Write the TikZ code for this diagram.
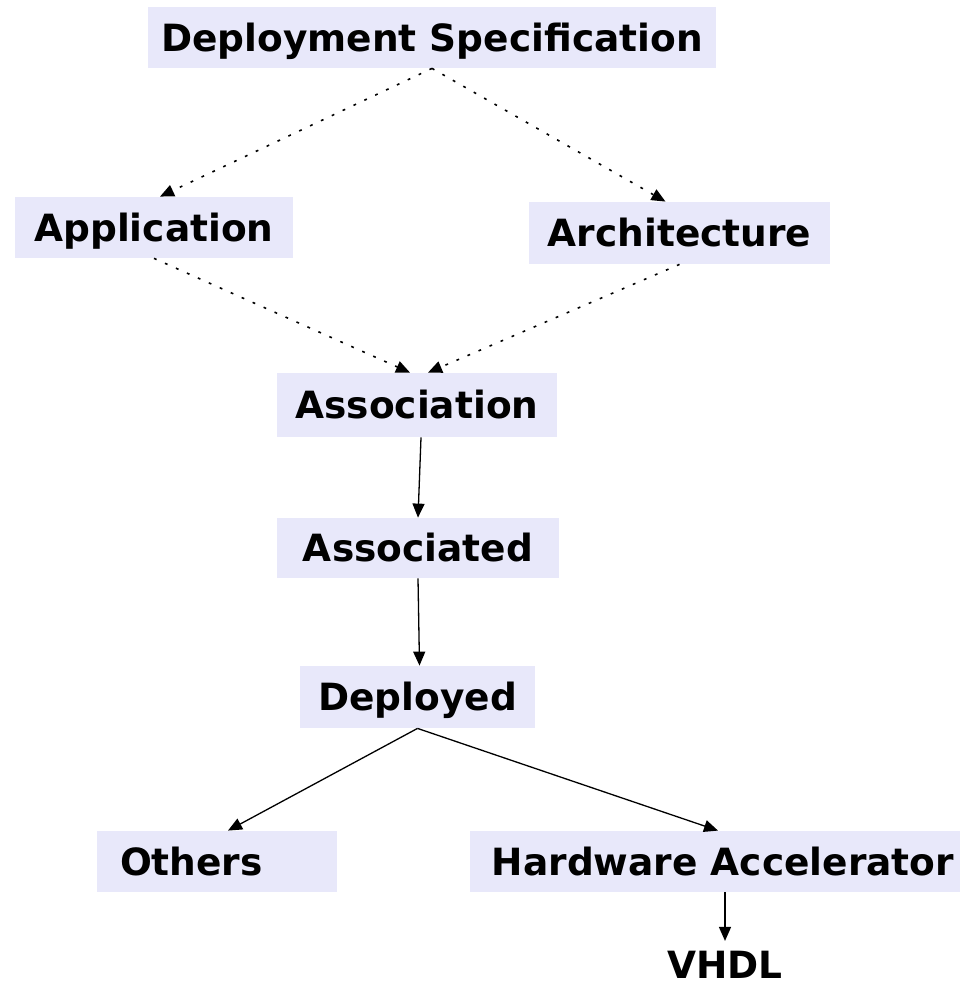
\documentclass[tikz,border=0pt]{standalone}
\usepackage{fontspec}
\setmainfont{DejaVu Sans}
\usetikzlibrary{arrows.meta,calc}
\definecolor{boxfill}{RGB}{232,232,250}
\tikzset{
  box/.style={fill=boxfill, inner sep=0pt, text height=13.67pt, text depth=0pt,
    font=\fontsize{18.75pt}{22pt}\selectfont\bfseries},
  plain/.style={inner sep=0pt, text height=13.67pt, text depth=0pt,
    font=\fontsize{18.75pt}{22pt}\selectfont\bfseries},
  tip/.style={-{Triangle[length=7pt,width=6pt]}},
  dotlink/.style={tip, line width=0.8pt, dash pattern=on 1.4pt off 4.6pt},
  solidlink/.style={tip, line width=0.65pt}
}
\begin{document}
\begin{tikzpicture}[x=0.5pt,y=-0.5pt]
\useasboundingbox (0,0) rectangle (959,989);

\node[box, minimum width=284pt, minimum height=30.5pt] (ds) at (432,37.5) {Deployment Specification};
\node[box, minimum width=139pt, minimum height=30.5pt] (app) at (154,227.5) {Application};
\node[box, minimum width=150.5pt, minimum height=31pt] (arch) at (679.5,233) {Architecture};
\node[box, minimum width=140pt, minimum height=32pt] (assoc) at (417,405) {Association};
\node[box, minimum width=141pt, minimum height=30pt] (assocd) at (418,548) {Associated};
\node[box, minimum width=117.5pt, minimum height=31pt] (dep) at (417.5,697) {Deployed};
\node[box, inner xsep=11.5pt, text width=97pt, align=left, minimum height=30.5pt] (others) at (217,861.5) {Others};
\node[box, minimum width=253pt, minimum height=30.5pt] (ha) at (723,861.5) {Hardware Accelerator};
\node[plain] (vhdl) at (725,965) {VHDL};

\draw[dotlink] (ds.south) -- ($(app.north)+(6,0)$);
\draw[dotlink] (ds.south) -- ($(arch.north)+(-14,0)$);
\draw[dotlink] (app.south) -- ($(assoc.north)+(-7,0)$);
\draw[dotlink] (arch.south) -- ($(assoc.north)+(11,0)$);
\draw[solidlink] ($(assoc.south)+(4,0)$) -- (assocd.north);
\draw[solidlink] (assocd.south) -- ($(dep.north)+(2,0)$);
\draw[solidlink] (dep.south) -- ($(others.north)+(11,0)$);
\draw[solidlink] (dep.south) -- ($(ha.north)+(-5,0)$);
\draw[solidlink] (vhdl.north |- ha.south) -- ($(vhdl.north)+(0,-10)$);
\end{tikzpicture}
\end{document}
